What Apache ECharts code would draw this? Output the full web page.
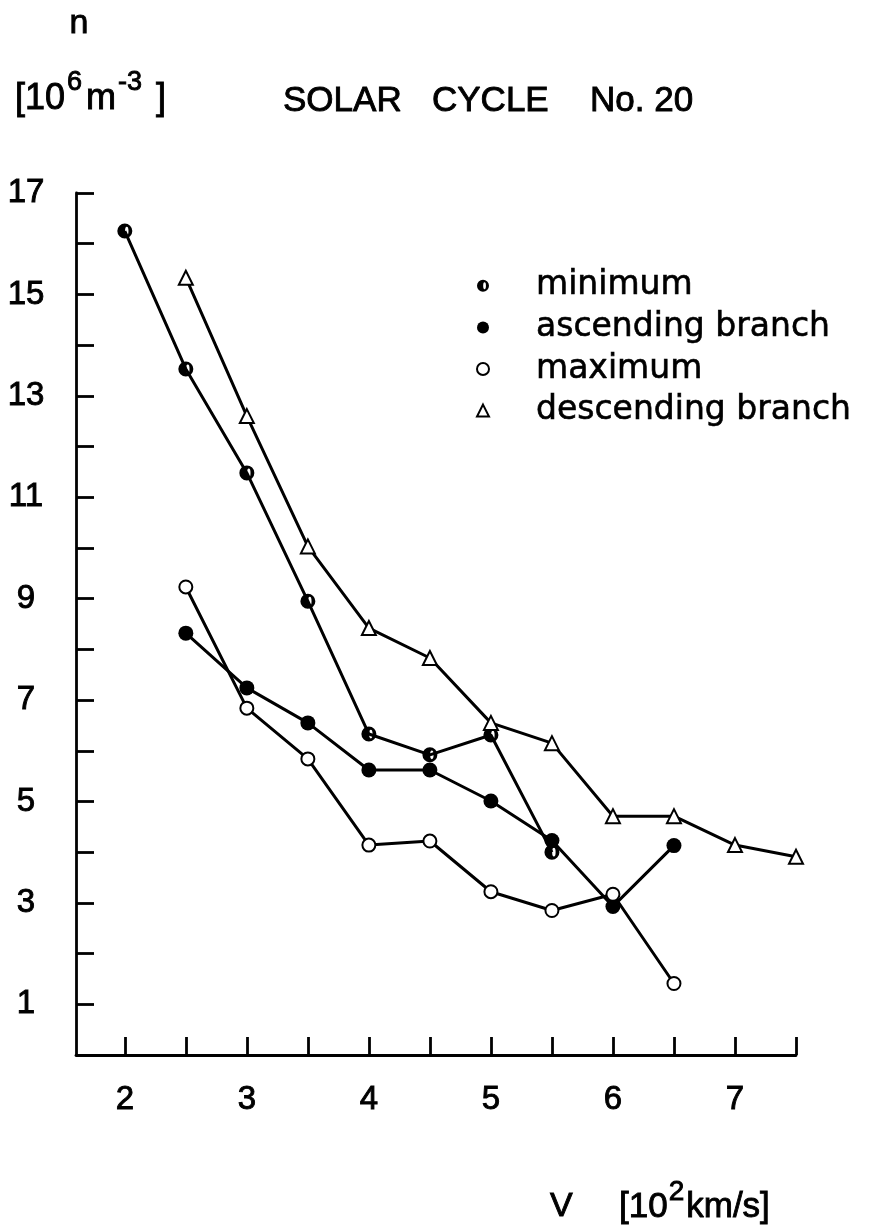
<!DOCTYPE html>
<html>
<head>
<meta charset="utf-8">
<script src="https://cdn.jsdelivr.net/npm/echarts@6/dist/echarts.min.js"></script>
<style>
html, body { margin: 0; padding: 0; background: #ffffff; }
#chart { width: 893px; height: 1228px; }
</style>
</head>
<body>
<div id="chart"></div>
<script>
// ---- data ----
const seriesNames = ['minimum', 'ascending branch', 'maximum', 'descending branch'];

const minimumV = [2, 2.5, 3, 3.5, 4, 4.5, 5, 5.5];
const minimumN = [16.25, 13.53, 11.48, 8.95, 6.33, 5.92, 6.31, 4.00];

const ascendingV = [2.5, 3, 3.5, 4, 4.5, 5, 5.5, 6, 6.5];
const ascendingN = [8.32, 7.24, 6.55, 5.62, 5.62, 5.01, 4.23, 2.93, 4.13];

const maximumV = [2.5, 3, 3.5, 4, 4.5, 5, 5.5, 6, 6.5];
const maximumN = [9.23, 6.84, 5.84, 4.14, 4.22, 3.22, 2.85, 3.17, 1.41];

const descendingV = [2.5, 3, 3.5, 4, 4.5, 5, 5.5, 6, 6.5, 7, 7.5];
const descendingN = [15.33, 12.60, 10.03, 8.42, 7.83, 6.55, 6.15, 4.71, 4.71, 4.14, 3.91];

const xTickValues = [2, 2.5, 3, 3.5, 4, 4.5, 5, 5.5, 6, 6.5, 7, 7.5];
const xTickLabels = [2, 3, 4, 5, 6, 7];
const yTickValues = [1, 2, 3, 4, 5, 6, 7, 8, 9, 10, 11, 12, 13, 14, 15, 16, 17];
const yTickLabels = [1, 3, 5, 7, 9, 11, 13, 15, 17];

// ---- styling ----
const INK = '#000000';
const NUM_FONT = "'Liberation Sans', Arial, sans-serif";
const LEG_FONT = "'DejaVu Sans', sans-serif";
const TB = { textBorderColor: INK, textBorderWidth: 0.9 };
const HALF_CIRCLE = 'path://M10,0A10,10,0,1,1,10,20A10,10,0,1,1,10,0Z' +
  'M12.6,4.2A2.3,5.8,0,0,0,12.6,15.8A2.3,5.8,0,0,0,12.6,4.2Z';

function pairs(xs, ys) { return xs.map((x, i) => [x, ys[i]]); }

const lineStyle = { color: INK, width: 3 };

const chart = echarts.init(document.getElementById('chart'), null, { renderer: 'canvas' });

chart.setOption({
  animation: false,
  backgroundColor: '#ffffff',
  grid: { left: 76, right: 97, top: 193, bottom: 173, containLabel: false, outerBoundsMode: 'none' },
  xAxis: {
    type: 'value', min: 1.6, max: 7.5,
    axisLine: { show: true, lineStyle: { color: INK, width: 2.8 } },
    axisTick: { show: true, inside: true, length: 18, customValues: xTickValues,
      lineStyle: { color: INK, width: 2.8 } },
    axisLabel: Object.assign({ customValues: xTickLabels, margin: 45, verticalAlign: 'middle',
      color: INK, fontFamily: NUM_FONT, fontSize: 33 }, TB),
    splitLine: { show: false }
  },
  yAxis: {
    type: 'value', min: 0, max: 17,
    axisLine: { show: true, lineStyle: { color: INK, width: 2.8 } },
    axisTick: { show: true, inside: true, length: 18, customValues: yTickValues,
      lineStyle: { color: INK, width: 2.8 } },
    axisLabel: Object.assign({ customValues: yTickLabels, margin: 50, align: 'center', verticalAlign: 'middle',
      color: INK, fontFamily: NUM_FONT, fontSize: 33 }, TB),
    splitLine: { show: false }
  },
  legend: {
    orient: 'vertical', left: 476, top: 269, padding: 0,
    itemWidth: 12, itemHeight: 12, itemGap: 8,
    formatter: name => '{g|}' + name,
    textStyle: Object.assign({ color: INK, fontFamily: LEG_FONT, fontSize: 33, lineHeight: 32,
      rich: { g: { width: 42 } } }, { textBorderColor: INK, textBorderWidth: 0.6 }),
    data: [
      { name: seriesNames[0], icon: HALF_CIRCLE },
      { name: seriesNames[1], icon: 'circle' },
      { name: seriesNames[2], icon: 'emptyCircle', itemStyle: { borderColor: INK, borderWidth: 2.5 } },
      { name: seriesNames[3], icon: 'emptyTriangle', itemStyle: { borderColor: INK, borderWidth: 2.5 } }
    ]
  },
  series: [
    { name: seriesNames[0], type: 'line', data: pairs(minimumV, minimumN),
      symbol: HALF_CIRCLE, symbolSize: 15, lineStyle: lineStyle,
      itemStyle: { color: INK, borderWidth: 0 } },
    { name: seriesNames[1], type: 'line', data: pairs(ascendingV, ascendingN),
      symbol: 'circle', symbolSize: 15, lineStyle: lineStyle,
      itemStyle: { color: INK, borderWidth: 0 } },
    { name: seriesNames[2], type: 'line', data: pairs(maximumV, maximumN),
      symbol: 'emptyCircle', symbolSize: 13, lineStyle: lineStyle,
      itemStyle: { color: INK, borderColor: INK, borderWidth: 3 } },
    { name: seriesNames[3], type: 'line', data: pairs(descendingV, descendingN),
      symbol: 'emptyTriangle', symbolSize: [14, 14], lineStyle: lineStyle,
      itemStyle: { color: INK, borderColor: INK, borderWidth: 3 } }
  ],
  graphic: [
    { type: 'text', x: 79, y: 24,
      style: Object.assign({ text: 'n', fill: INK, font: "34px 'Liberation Sans', Arial, sans-serif",
        align: 'center', verticalAlign: 'middle' }, { stroke: INK, lineWidth: 0.9 }) },
    { type: 'text', x: 15, y: 99.5,
      style: { text: '{b|[10}{s|6}{b|m}{s|-3}{b| ]}', align: 'left', verticalAlign: 'middle',
        rich: {
          b: { fill: INK, fontFamily: NUM_FONT, fontSize: 36, lineHeight: 60, stroke: INK, lineWidth: 0.9 },
          s: { fill: INK, fontFamily: NUM_FONT, fontSize: 27, lineHeight: 26, verticalAlign: 'top',
               padding: [0, 4, 0, 2], stroke: INK, lineWidth: 0.9 }
        } } },
    { type: 'text', x: 283, y: 101.5,
      style: { text: 'SOLAR', fill: INK, font: "35px 'Liberation Sans', Arial, sans-serif",
        align: 'left', verticalAlign: 'middle', stroke: INK, lineWidth: 0.9 } },
    { type: 'text', x: 432, y: 101.5,
      style: { text: 'CYCLE', fill: INK, font: "35px 'Liberation Sans', Arial, sans-serif",
        align: 'left', verticalAlign: 'middle', stroke: INK, lineWidth: 0.9 } },
    { type: 'text', x: 590, y: 101.5,
      style: { text: 'No. 20', fill: INK, font: "35px 'Liberation Sans', Arial, sans-serif",
        align: 'left', verticalAlign: 'middle', stroke: INK, lineWidth: 0.9 } },
    { type: 'text', x: 550, y: 1207,
      style: { text: 'V', fill: INK, font: "34px 'Liberation Sans', Arial, sans-serif",
        align: 'left', verticalAlign: 'middle', stroke: INK, lineWidth: 0.9 } },
    { type: 'text', x: 619, y: 1207,
      style: { text: '{b|[10}{s|2}{b|km/s]}', align: 'left', verticalAlign: 'middle',
        rich: {
          b: { fill: INK, fontFamily: NUM_FONT, fontSize: 35, lineHeight: 58, stroke: INK, lineWidth: 0.9 },
          s: { fill: INK, fontFamily: NUM_FONT, fontSize: 28, lineHeight: 28, verticalAlign: 'top',
               padding: [0, 2, 0, 1], stroke: INK, lineWidth: 0.9 }
        } } }
  ]
});
</script>
</body>
</html>
